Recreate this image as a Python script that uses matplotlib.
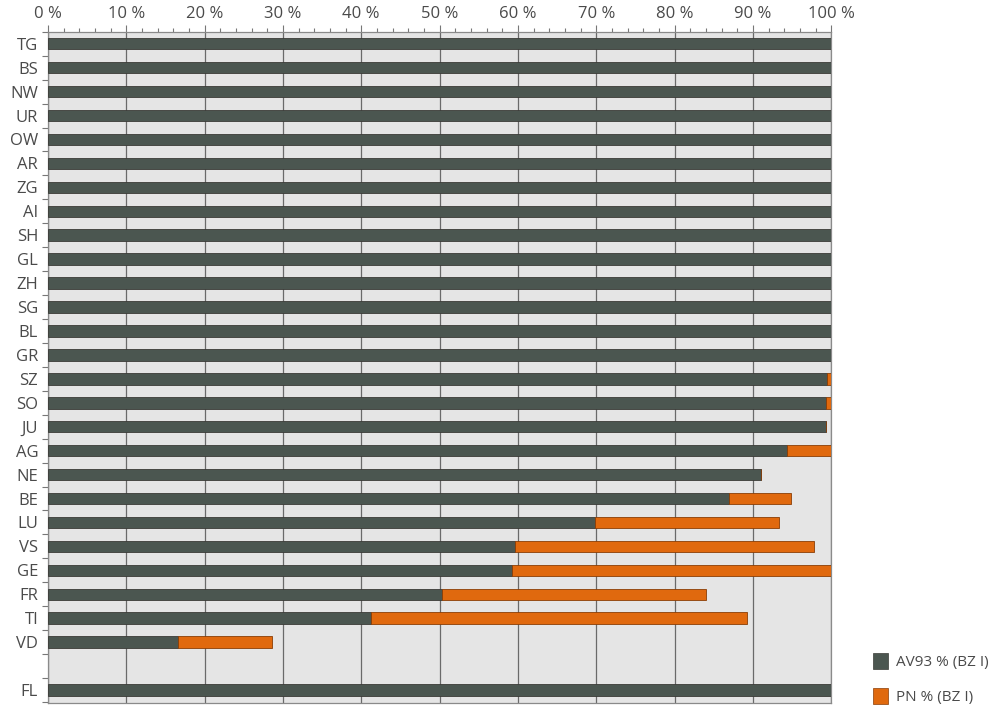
import numpy as np
import matplotlib.pyplot as plt
from matplotlib.patches import Patch
from matplotlib.ticker import MultipleLocator, FuncFormatter

plt.rcParams['font.family'] = ['Open Sans', 'DejaVu Sans']

cantons = ['TG', 'BS', 'NW', 'UR', 'OW', 'AR', 'ZG', 'AI', 'SH', 'GL', 'ZH', 'SG',
           'BL', 'GR', 'SZ', 'SO', 'JU', 'AG', 'NE', 'BE', 'LU', 'VS', 'GE', 'FR',
           'TI', 'VD', 'FL']
av93 = [100, 100, 100, 100, 100, 100, 100, 100, 100, 100, 100, 100,
        100, 100, 99.5, 99.4, 99.4, 94.3, 91.1, 86.9, 69.9, 59.6, 59.3, 50.3,
        41.2, 16.6, 100]
pn = [0, 0, 0, 0, 0, 0, 0, 0, 0, 0, 0, 0,
      0, 0, 0.5, 0.6, 0, 5.7, 0, 8.0, 23.5, 38.2, 40.7, 33.7,
      48.1, 12.0, 0]

grey = '#4b5650'
orange = '#e0690e'
bg = '#e5e5e5'
edge = '#3a3a36'
txt = '#4a4a4a'

# FL sits one empty row below VD
ypos = np.array(list(range(len(cantons) - 1)) + [len(cantons)])

fig = plt.figure(figsize=(9.99, 7.06), dpi=100)
ax = fig.add_axes([0.048, 0.004, 0.784, 0.951])
ax.set_facecolor(bg)

ax.barh(ypos, av93, height=0.48, color=grey, edgecolor=edge, linewidth=0.6, zorder=3)
ax.barh(ypos, pn, left=av93, height=0.48, color=orange, edgecolor='#8a3d05',
        linewidth=0.6, zorder=3)

ax.set_xlim(0, 100)
ax.set_ylim(ypos[-1] + 0.55, -0.42)
ax.xaxis.tick_top()
ax.xaxis.set_major_locator(MultipleLocator(10))
ax.xaxis.set_minor_locator(MultipleLocator(2))
ax.xaxis.set_major_formatter(FuncFormatter(lambda v, p: f'{int(v)} %'))
ax.grid(axis='x', which='major', color='#6a6a6a', linewidth=0.9, zorder=1)

ax.set_yticks(ypos)
ax.set_yticklabels(cantons)
bounds = np.arange(-0.5, ypos[-1] + 0.6, 1)
ax.set_yticks(bounds, minor=True)
ax.tick_params(axis='y', which='major', length=0, pad=7, labelsize=12, labelcolor=txt)
ax.tick_params(axis='y', which='minor', length=4, color='#777777', width=0.8)
ax.tick_params(axis='x', which='major', length=5, color='#777777', width=0.8,
               pad=2, labelsize=12, labelcolor=txt)
ax.tick_params(axis='x', which='minor', length=3, color='#777777', width=0.8)

for s in ax.spines.values():
    s.set_color('#8a8a8a')
    s.set_linewidth(0.9)

handles = [Patch(facecolor=grey, edgecolor=edge, linewidth=0.5, label='AV93 % (BZ I)'),
           Patch(facecolor=orange, edgecolor='#8a3d05', linewidth=0.5, label='PN % (BZ I)')]
leg = fig.legend(handles=handles, loc='lower left', bbox_to_anchor=(0.860, -0.018),
                 frameon=False, handlelength=1.0, handleheight=1.2, handletextpad=0.5,
                 labelspacing=1.15, fontsize=11)
for t in leg.get_texts():
    t.set_color(txt)

fig.savefig('out.png', dpi=100)
